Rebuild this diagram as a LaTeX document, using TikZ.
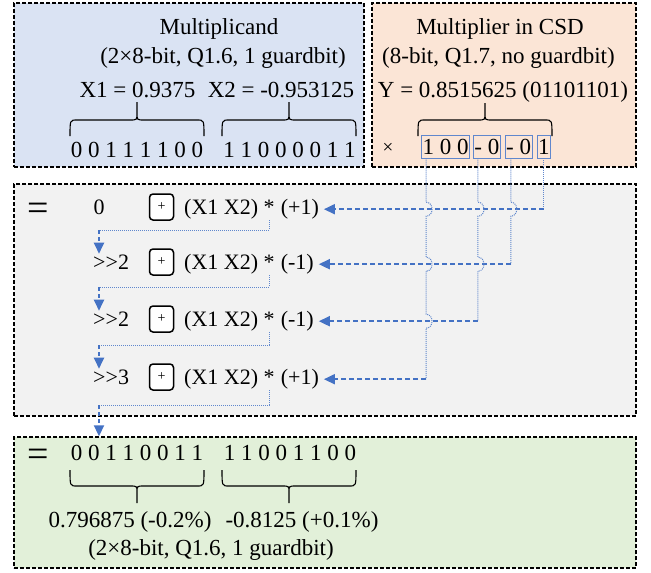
\documentclass[tikz,border=0pt]{standalone}
\usepackage{fontspec}
\setmainfont{Liberation Serif}
\usetikzlibrary{arrows.meta,positioning,calc}

\definecolor{multbg}{HTML}{DAE3F3}
\definecolor{csdbg}{HTML}{FBE5D6}
\definecolor{sumbg}{HTML}{F2F2F2}
\definecolor{resbg}{HTML}{E2F0D9}
\definecolor{wire}{HTML}{4472C4}

\newcommand\linehop{.. controls +(8,0) and +(8,0) .. ++(0,14)}

\begin{document}
\begin{tikzpicture}[x=1pt, y=-1pt, > = {Triangle[length=11pt,width=10pt]},
  panel/.style = {draw, line width=1.4pt, dash pattern=on 4pt off 2pt, inner sep=0pt},
  txt/.style = {inner sep=1pt, font=\fontsize{23}{27}\selectfont},
  row/.style = {inner sep=1pt, font=\fontsize{22}{26}\selectfont},
  gain/.style = {row, outer xsep=4pt},
  eqsign/.style = {inner sep=0pt, font=\fontsize{38}{42}\selectfont},
  digit/.style = {draw=wire!85, line width=0.9pt, inner xsep=1pt, inner ysep=0pt, minimum height=23pt, font=\fontsize{23}{27}\selectfont},
  addbox/.style = {draw, line width=1.5pt, rounded corners=3.5pt, fill=white, minimum width=24pt, minimum height=26pt, inner sep=0pt, font=\fontsize{14}{16}\selectfont},
  brace/.style = {line width=1.1pt},
  tap/.style = {wire!85, line width=1pt, densely dotted},
  feed/.style = {wire, line width=1.8pt, dash pattern=on 5pt off 3pt, ->},
  shiftarr/.style = {wire, line width=1.8pt, dash pattern=on 4pt off 3pt, ->}]

  \useasboundingbox (0,0) rectangle (651,573);

  % panels
  \node[panel, fill=multbg, minimum width=350pt, minimum height=164pt] (multpanel) at (189,85) {};
  \node[panel, fill=csdbg, minimum width=264pt, minimum height=164pt] (csdpanel) at (504,85) {};
  \node[panel, fill=sumbg, minimum width=622pt, minimum height=232pt] (sumpanel) at (325,300) {};
  \node[panel, fill=resbg, minimum width=622pt, minimum height=131pt] (respanel) at (325,502.5) {};

  % multiplicand
  \node[txt, anchor=base] (multtitle) at (219,34.5) {Multiplicand};
  \node[txt, anchor=base] (multfmt) at (223,63) {(2×8-bit, Q1.6, 1 guardbit)};
  \node[txt, anchor=base] (xa) at (137.5,97) {X1 = 0.9375};
  \node[txt, anchor=base] (xb) at (281,97) {X2 = -0.953125};
  \node[txt, anchor=base] (xabits) at (137,157) {0 0 1 1 1 1 0 0};
  \node[txt, anchor=base] (xbbits) at (289.5,157) {1 1 0 0 0 0 1 1};

  % multiplier
  \node[txt, anchor=base] (csdtitle) at (500,34) {Multiplier in CSD};
  \node[txt, anchor=base] (csdfmt) at (498.5,63) {(8-bit, Q1.7, no guardbit)};
  \node[txt, anchor=base] (yval) at (503,97) {Y = 0.8515625 (01101101)};
  \node[inner sep=0pt, font=\fontsize{19}{21}\selectfont] (times) at (388,148) {×};
  \node[digit] (d1) at (445.5,146.5) {1 0 0};
  \node[digit, right=3pt of d1] (d2) {- 0};
  \node[digit, right=4pt of d2] (d3) {- 0};
  \node[digit, right=4pt of d3] (d4) {1};

  % braces
  \foreach \xa/\xb/\yb/\ym/\yc/\yt in {70/204/136/120/113/102, 222/356/136/120/113/102,
      418/552/136/120/113/103, 70/204/470/486/492/503, 222/356/470/486/492/503}
    \draw[brace] (\xa,\yb) .. controls (\xa,\ym) .. (\xa+7,\ym) -- ({(\xa+\xb)/2-7},\ym)
      .. controls ({(\xa+\xb)/2},\ym) .. ({(\xa+\xb)/2},\yc) -- ({(\xa+\xb)/2},\yt)
      -- ({(\xa+\xb)/2},\yc) .. controls ({(\xa+\xb)/2},\ym) .. ({(\xa+\xb)/2+7},\ym)
      -- (\xb-7,\ym) .. controls (\xb,\ym) .. (\xb,\yb);

  % accumulation rows
  \node[eqsign] (sumeq) at (38,212) {=};
  \node[row, anchor=base] (s1) at (99,214.5) {0};
  \node[row, anchor=base west] (s2) at (92,269.5) {{>}{>}2};
  \node[row, anchor=base west] (s3) at (92,326.5) {{>}{>}2};
  \node[row, anchor=base west] (s4) at (92,384.5) {{>}{>}3};
  \foreach \i/\y/\g in {1/207/(+1), 2/262/(-1), 3/319/(-1), 4/377/(+1)} {
    \node[addbox] (p\i) at (161.5,\y) {+};
    \node[row, anchor=base west] (x\i) at (183,\y+7.5) {(X1 X2) *};
    \node[gain, anchor=base west] (c\i) at (x\i.base east) {\g};
  }

  % shifts
  \draw[tap] ([xshift=-6.5pt]x1.south east) |- (99,230) coordinate (h1);
  \draw[shiftarr] (h1) -- (s2.north -| h1);
  \draw[tap] ([xshift=-6.5pt]x2.south east) |- (99,287) coordinate (h2);
  \draw[shiftarr] (h2) -- (s3.north -| h2);
  \draw[tap] ([xshift=-6.5pt]x3.south east) |- (99,345) coordinate (h3);
  \draw[shiftarr] (h3) -- (s4.north -| h3);
  \draw[tap] ([xshift=-6.5pt]x4.south east) |- (99,405) coordinate (h4);
  \draw[shiftarr] (h4) -- (respanel.north -| h4);

  % CSD digit taps
  \coordinate (t1) at ([xshift=5pt]d1.south west);
  \coordinate (t2) at ([xshift=5pt]d2.south west);
  \coordinate (t3) at ([xshift=6pt]d3.south west);
  \coordinate (t4) at (d4.south);
  \draw[tap] (t4) -- (t4 |- c1.east);
  \draw[feed] (t4 |- c1.east) -- (c1.east);
  \draw[tap] (t3) -- ([yshift=7pt]t3 |- c1.east) \linehop -- (t3 |- c2.east);
  \draw[feed] (t3 |- c2.east) -- (c2.east);
  \draw[tap] (t2) -- ([yshift=7pt]t2 |- c1.east) \linehop -- ([yshift=7pt]t2 |- c2.east) \linehop -- (t2 |- c3.east);
  \draw[feed] (t2 |- c3.east) -- (c3.east);
  \draw[tap] (t1) -- ([yshift=7pt]t1 |- c1.east) \linehop -- ([yshift=7pt]t1 |- c2.east) \linehop
    -- ([yshift=7pt]t1 |- c3.east) \linehop -- (t1 |- c4.east);
  \draw[feed] (t1 |- c4.east) -- (c4.east);

  % result
  \node[eqsign] (reseq) at (38,458) {=};
  \node[txt, anchor=base] (ra) at (137,460) {0 0 1 1 0 0 1 1};
  \node[txt, anchor=base] (rb) at (290,460) {1 1 0 0 1 1 0 0};
  \node[txt, anchor=base] (rava) at (130,527) {0.796875 (-0.2\%)};
  \node[txt, anchor=base] (rbva) at (302,527) {-0.8125 (+0.1\%)};
  \node[txt, anchor=base] (resfmt) at (211,555) {(2×8-bit, Q1.6, 1 guardbit)};
\end{tikzpicture}
\end{document}
